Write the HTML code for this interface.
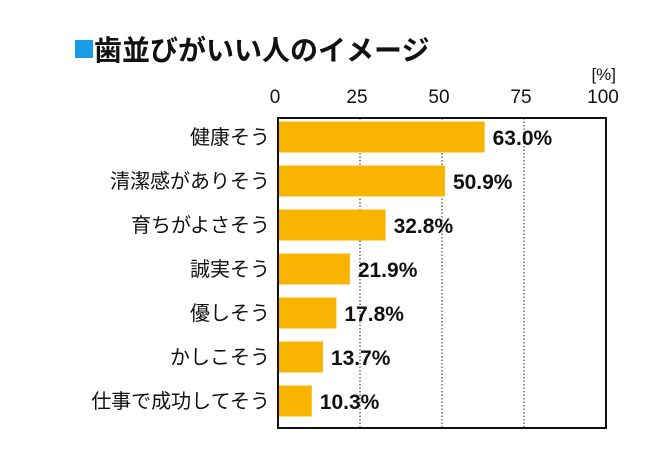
<!DOCTYPE html>
<html><head><meta charset="utf-8"><style>
body{margin:0;background:#fff;}
svg{display:block;font-family:"Liberation Sans","Noto Sans CJK JP",sans-serif;}
</style></head><body>
<svg id="c" width="668" height="470">
<rect x="75" y="40" width="18" height="18" fill="#1a9be6"/>
<text x="94" y="60" font-size="28" font-weight="bold" fill="#111">歯並びがいい人のイメージ</text>
<text x="616" y="80" font-size="17" fill="#111" text-anchor="end">[%]</text>
<g id="g"></g>
</svg>
<script>
const categories=["健康そう","清潔感がありそう","育ちがよさそう","誠実そう","優しそう","かしこそう","仕事で成功してそう"];
const values=[63.0,50.9,32.8,21.9,17.8,13.7,10.3];
const ticks=[0,25,50,75,100];
const NS="http://www.w3.org/2000/svg";
const g=document.getElementById('g');
const x0=278,x1=606,yTop=118,yBot=428,step=44,bh=31,firstC=137;
const xs=v=>x0+(x1-x0)*v/100;
const yc=i=>firstC+i*step;
function mk(t,a){const e=document.createElementNS(NS,t);for(const k in a)e.setAttribute(k,a[k]);g.appendChild(e);return e;}
ticks.forEach(t=>{
 const l=mk('text',{x:xs(t)-3,y:103,'font-size':19,'text-anchor':'middle',fill:'#111'});l.textContent=t;
 
 
 if(t>0&&t<100){const d=mk('line',{x1:xs(t),x2:xs(t),y1:yTop,y2:yBot,stroke:'#222','stroke-width':1,'stroke-dasharray':'1.5,2'});
 
 }
});
values.forEach((v,i)=>{
 const r=mk('rect',{x:x0,y:yc(i)-bh/2,width:xs(v)-x0,height:bh,fill:'#f8b400'});
 
 
 const vl=mk('text',{x:xs(v)+8,y:yc(i)+8,'font-size':21,'font-weight':'bold',fill:'#111'});vl.textContent=v.toFixed(1)+'%';
 
 
 const cl=mk('text',{x:x0-8,y:yc(i)+7,'font-size':20,'text-anchor':'end',fill:'#111'});cl.textContent=categories[i];
 
 
});
const b=mk('rect',{x:x0,y:yTop,width:x1-x0,height:yBot-yTop,fill:'none',stroke:'#111','stroke-width':2});


</script>
</body></html>
